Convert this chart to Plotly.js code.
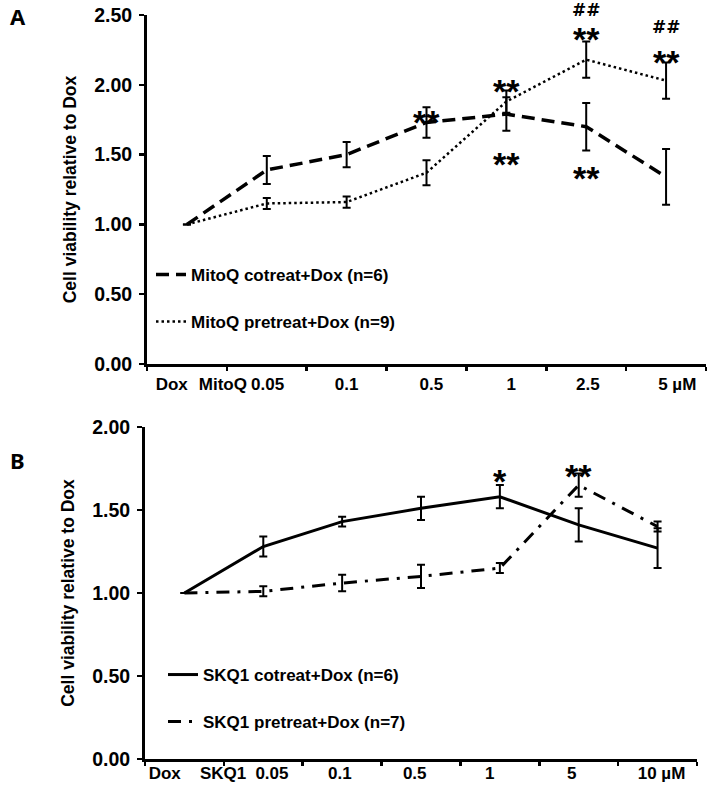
<!DOCTYPE html>
<html>
<head>
<meta charset="utf-8">
<script src="https://cdn.plot.ly/plotly-3.0.1.min.js"></script>
<style>html,body{margin:0;padding:0;background:#fff;}#chart{width:709px;height:786px;}</style>
</head>
<body>
<div id="chart"></div>
<script>
// ---------- Data ----------
const xIndex = [0, 1, 2, 3, 4, 5, 6];
const categoryEdges = [-0.5, 0.5, 1.5, 2.5, 3.5, 4.5, 5.5, 6.5];

// Panel A (MitoQ)
const cotreatA = [1.00, 1.39, 1.50, 1.73, 1.79, 1.70, 1.34];
const cotreatAErr = [0, 0.10, 0.09, 0.11, 0.12, 0.17, 0.20];
const pretreatA = [1.00, 1.15, 1.16, 1.37, 1.88, 2.18, 2.03];
const pretreatAErr = [0, 0.04, 0.04, 0.09, 0.08, 0.13, 0.13];
const tickTextA = ['Dox', 'MitoQ', '0.05', '0.1', '0.5', '1', '2.5', '5 µM'];
const tickPosA = [-0.19, 0.45, 1.01, 2.0, 3.06, 4.06, 5.02, 6.14];
const yTicksA = [0, 0.5, 1.0, 1.5, 2.0, 2.5];

// Panel B (SKQ1)
const cotreatB = [1.00, 1.28, 1.43, 1.51, 1.58, 1.41, 1.27];
const cotreatBErr = [0, 0.06, 0.03, 0.07, 0.07, 0.10, 0.12];
const pretreatB = [1.00, 1.01, 1.06, 1.10, 1.15, 1.65, 1.40];
const pretreatBErr = [0, 0.03, 0.05, 0.07, 0.03, 0.07, 0.03];
const tickTextB = ['Dox', 'SKQ1', '0.05', '0.1', '0.5', '1', '5', '10 µM'];
const tickPosB = [-0.25, 0.49, 1.11, 1.97, 2.92, 3.87, 4.91, 6.05];
const yTicksB = [0, 0.5, 1.0, 1.5, 2.0];

// Significance marks: [x index, y value, text]
const sigStarsA = [[3, 1.80, '**'], [4, 2.02, '**'], [4, 1.50, '**'], [5, 1.40, '**'], [5, 2.39, '**'], [6, 2.23, '**']];
const sigHashA = [[5, 2.48, '##'], [6, 2.36, '##']];
const sigStarsB = [[4, 1.73, '*'], [5, 1.76, '**']];

// ---------- Styles ----------
const FONT = 'Liberation Sans, Arial, sans-serif';
const black = '#000';
const err = (arr) => ({type: 'data', array: arr, visible: true, color: black, thickness: 2, width: 4});

const traces = [
  {x: xIndex, y: cotreatA, error_y: err(cotreatAErr), xaxis: 'x', yaxis: 'y', mode: 'lines',
   name: 'MitoQ cotreat+Dox (n=6)', legend: 'legend',
   line: {color: black, width: 3.5, dash: '13px,7px'}},
  {x: xIndex, y: pretreatA, error_y: err(pretreatAErr), xaxis: 'x', yaxis: 'y', mode: 'lines',
   name: 'MitoQ pretreat+Dox (n=9)', legend: 'legend2',
   line: {color: black, width: 2.5, dash: '2.5px,3px'}},
  {x: xIndex, y: cotreatB, error_y: err(cotreatBErr), xaxis: 'x2', yaxis: 'y2', mode: 'lines',
   name: 'SKQ1 cotreat+Dox (n=6)', legend: 'legend3',
   line: {color: black, width: 3}},
  {x: xIndex, y: pretreatB, error_y: err(pretreatBErr), xaxis: 'x2', yaxis: 'y2', mode: 'lines',
   name: 'SKQ1 pretreat+Dox (n=7)', legend: 'legend4',
   line: {color: black, width: 3, dash: '13px,8px,3px,8px'}},
  // transparent copies so the label-only overlay axes are drawn
  {x: xIndex, y: cotreatA, xaxis: 'x3', yaxis: 'y', mode: 'markers', marker: {opacity: 0}, showlegend: false, hoverinfo: 'skip'},
  {x: xIndex, y: cotreatB, xaxis: 'x4', yaxis: 'y2', mode: 'markers', marker: {opacity: 0}, showlegend: false, hoverinfo: 'skip'}
];

const W = 709, H = 786;
const px = (v) => v / W;
const py = (v) => 1 - v / H;

const tickFont = {family: FONT, size: 17, color: black, weight: 'bold'};
const yTickFont = {family: FONT, size: 19.5, color: black, weight: 'bold'};

// main x axis: line + tick marks at category edges
function xAxisMain(domain, anchor) {
  return {
    domain: domain, range: [-0.5, 6.5], fixedrange: true, anchor: anchor,
    showline: true, linecolor: black, linewidth: 3, showgrid: false, zeroline: false,
    tickmode: 'array', tickvals: categoryEdges, ticktext: categoryEdges.map(() => ''),
    ticks: 'outside', ticklen: 4, tickwidth: 2.5, tickcolor: black
  };
}
// overlay x axis: labels only
function xAxisLabels(overlay, domain, anchor, tickPos, tickText, standoff) {
  return {
    overlaying: overlay, domain: domain, anchor: anchor, side: 'bottom',
    range: [-0.5, 6.5], fixedrange: true,
    showline: false, showgrid: false, zeroline: false,
    tickmode: 'array', tickvals: tickPos, ticktext: tickText, ticks: '',
    ticklabelstandoff: standoff, tickfont: tickFont
  };
}
function yAxis(domain, range, tickVals, anchor) {
  return {
    domain: domain, range: range, fixedrange: true, anchor: anchor,
    showline: true, linecolor: black, linewidth: 3, showgrid: false, zeroline: false,
    tickmode: 'array', tickvals: tickVals, ticktext: tickVals.map(v => v.toFixed(2)),
    ticks: 'outside', ticklen: 5, tickwidth: 2.5, tickcolor: black, tickfont: yTickFont,
    ticklabelstandoff: 3,
    title: {text: 'Cell viability relative to Dox', font: {family: FONT, size: 17.5, color: black, weight: 'bold'}, standoff: 14}
  };
}

const legendBase = (x, y) => ({
  x: x, y: y, xanchor: 'left', yanchor: 'middle', bgcolor: 'rgba(0,0,0,0)',
  font: {family: FONT, size: 17, color: black, weight: 'bold'}, itemwidth: 30
});

const annotations = [];
function addMarks(list, xref, yref, size, yshift, family) {
  list.forEach(m => annotations.push({
    x: m[0], y: m[1], text: m[2], xref: xref, yref: yref, showarrow: false,
    font: {family: family || FONT, size: size, color: black, weight: 'bold'}, yshift: yshift
  }));
}
addMarks(sigStarsA, 'x', 'y', 34, -9);
addMarks(sigHashA, 'x', 'y', 17, 8, 'DejaVu Sans, sans-serif');
addMarks(sigStarsB, 'x2', 'y2', 34, -9);
annotations.push({text: 'A', x: px(8), y: py(16), xref: 'paper', yref: 'paper', xanchor: 'left', yanchor: 'middle', showarrow: false,
  font: {family: 'Noto Sans, DejaVu Sans, sans-serif', size: 22, color: black, weight: 'bold'}});
annotations.push({text: 'B', x: px(8), y: py(460), xref: 'paper', yref: 'paper', xanchor: 'left', yanchor: 'middle', showarrow: false,
  font: {family: 'Noto Sans, DejaVu Sans, sans-serif', size: 22, color: black, weight: 'bold'}});

const domXA = [px(147), px(706)], domYA = [py(364), py(15)];
const domXB = [px(145), px(697)], domYB = [py(759), py(427)];

const layout = {
  width: W, height: H, margin: {l: 0, r: 0, t: 0, b: 0},
  paper_bgcolor: '#fff', plot_bgcolor: '#fff', showlegend: true,
  xaxis: xAxisMain(domXA, 'y'),
  yaxis: yAxis(domYA, [0, 2.5], yTicksA, 'x'),
  xaxis2: xAxisMain(domXB, 'y2'),
  yaxis2: yAxis(domYB, [0, 2.0], yTicksB, 'x2'),
  xaxis3: xAxisLabels('x', domXA, 'y', tickPosA, tickTextA, 8),
  xaxis4: xAxisLabels('x2', domXB, 'y2', tickPosB, tickTextB, 2),
  legend: legendBase(px(151), py(275)),
  legend2: legendBase(px(151), py(322)),
  legend3: legendBase(px(163), py(675)),
  legend4: legendBase(px(163), py(722)),
  annotations: annotations
};

Plotly.newPlot('chart', traces, layout, {staticPlot: true});
</script>
</body>
</html>
